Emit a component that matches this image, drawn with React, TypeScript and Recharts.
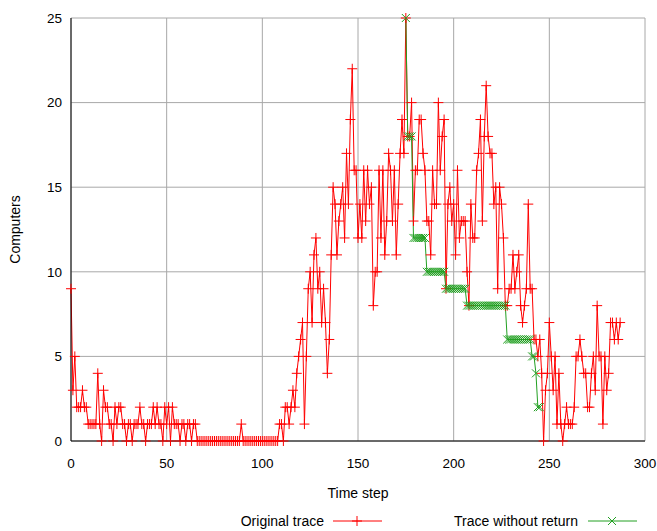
import { CartesianGrid, Legend, Line, LineChart, XAxis, YAxis } from 'recharts'

// time steps run 0..287, one red value per step
const originalTrace = [
  9, 3, 5, 2, 2, 2, 3, 2, 2, 1,
  1, 1, 1, 1, 4, 1, 0, 3, 2, 2,
  1, 1, 0, 2, 1, 2, 2, 1, 1, 0,
  1, 1, 0, 1, 1, 1, 2, 1, 1, 0,
  1, 1, 1, 2, 1, 2, 1, 1, 0, 2,
  1, 2, 0, 2, 1, 1, 1, 0, 1, 1,
  0, 1, 1, 0, 1, 1, 0, 0, 0, 0,
  0, 0, 0, 0, 0, 0, 0, 0, 0, 0,
  0, 0, 0, 0, 0, 0, 0, 0, 0, 1,
  0, 0, 0, 0, 0, 0, 0, 0, 0, 0,
  0, 0, 0, 0, 0, 0, 0, 0, 0, 1,
  1, 0, 2, 2, 1, 2, 3, 2, 4, 5,
  6, 7, 1, 5, 9, 10, 7, 11, 12, 9,
  10, 7, 9, 7, 4, 6, 11, 15, 14, 11,
  13, 14, 15, 12, 17, 14, 19, 22, 16, 16,
  12, 14, 12, 16, 13, 16, 14, 15, 8, 10,
  10, 16, 12, 16, 11, 13, 17, 16, 13, 16,
  11, 14, 17, 19, 17, 25, 18, 18, 20, 13,
  16, 16, 19, 19, 17, 16, 13, 13, 11, 16,
  14, 14, 20, 16, 18, 19, 9, 14, 15, 13,
  14, 11, 16, 12, 13, 13, 13, 10, 8, 14,
  12, 12, 16, 17, 19, 13, 18, 21, 18, 17,
  17, 14, 15, 9, 15, 14, 12, 8, 8, 9,
  9, 11, 9, 10, 11, 8, 7, 8, 9, 14,
  9, 9, 6, 6, 5, 6, 4, 0, 3, 4,
  7, 5, 3, 5, 1, 4, 1, 0, 1, 2,
  1, 1, 1, 2, 5, 5, 6, 5, 4, 4,
  2, 2, 4, 5, 3, 8, 5, 5, 1, 5,
  3, 4, 7, 7, 6, 7, 6, 7,
]

// green trace starts at step 175 and ends at 245
const withoutReturnStart = 175
const withoutReturn = [
  25, 18, 18, 18,
  12, 12, 12, 12, 12, 12, 12,
  10, 10, 10, 10, 10, 10, 10, 10, 10, 10,
  9, 9, 9, 9, 9, 9, 9, 9, 9, 9, 9,
  8, 8, 8, 8, 8, 8, 8, 8, 8, 8, 8, 8, 8, 8, 8, 8, 8, 8, 8, 8, 8,
  6, 6, 6, 6, 6, 6, 6, 6, 6, 6, 6, 6, 6,
  5, 5, 4, 2, 2,
]

const xTicks = [0, 50, 100, 150, 200, 250, 300]
const yTicks = [0, 5, 10, 15, 20, 25]

const data = originalTrace.map((v, t) => {
  const g = t - withoutReturnStart
  return {
    t,
    original: v,
    noReturn: g >= 0 && g < withoutReturn.length ? withoutReturn[g] : null,
  }
})

const RED = '#ff0000'
const GREEN = '#22a022'
const FONT = '"Liberation Sans", Arial, sans-serif'

const plusDot = (p: any) => {
  if (p.cx == null || p.cy == null) return <g key={p.index} />
  return (
    <path
      key={p.index}
      d={`M${p.cx - 5},${p.cy}H${p.cx + 5}M${p.cx},${p.cy - 5}V${p.cy + 5}`}
      stroke={RED}
      strokeWidth={1}
      fill="none"
    />
  )
}

const crossDot = (p: any) => {
  if (p.cx == null || p.cy == null) return <g key={p.index} />
  return (
    <path
      key={p.index}
      d={`M${p.cx - 4},${p.cy - 4}L${p.cx + 4},${p.cy + 4}M${p.cx - 4},${p.cy + 4}L${p.cx + 4},${p.cy - 4}`}
      stroke={GREEN}
      strokeWidth={1}
      fill="none"
    />
  )
}

function LegendBox() {
  return (
    <div style={{ position: 'relative', width: 657, height: 18, fontFamily: FONT, fontSize: 14, color: '#000' }}>
      <span style={{ position: 'absolute', right: 657 - 324, top: 0, lineHeight: '18px', whiteSpace: 'nowrap' }}>
        Original trace
      </span>
      <svg style={{ position: 'absolute', left: 333, top: 0 }} width={50} height={18}>
        <line x1={0} y1={9} x2={49} y2={9} stroke={RED} strokeWidth={1} />
        <path d="M19,9H29M24,4V14" stroke={RED} strokeWidth={1} />
      </svg>
      <span style={{ position: 'absolute', right: 657 - 578, top: 0, lineHeight: '18px', whiteSpace: 'nowrap' }}>
        Trace without return
      </span>
      <svg style={{ position: 'absolute', left: 588, top: 0 }} width={50} height={18}>
        <line x1={0} y1={9} x2={49} y2={9} stroke={GREEN} strokeWidth={1} />
        <path d="M20,5L28,13M20,13L28,5" stroke={GREEN} strokeWidth={1} />
      </svg>
    </div>
  )
}

export default function App() {
  return (
    <div style={{ position: 'absolute', left: 0, top: 0, width: 657, height: 531, background: '#fff' }}>
      <LineChart width={657} height={531} data={data} margin={{ top: 18, right: 12, left: 0, bottom: 30 }}>
        <CartesianGrid stroke="#a8a8a8" strokeWidth={1} />
        <XAxis
          dataKey="t"
          type="number"
          domain={[0, 300]}
          ticks={xTicks}
          height={60}
          tickLine={false}
          tickSize={6}
          tickMargin={11}
          axisLine={{ stroke: '#000' }}
          tick={{ fill: '#000', fontSize: 13.5, fontFamily: FONT }}
          label={{
            content: ({ viewBox }: any) => (
              <text
                x={viewBox.x + viewBox.width / 2}
                y={493}
                textAnchor="middle"
                dominantBaseline="central"
                fontFamily={FONT}
                fontSize={14}
                fill="#000"
              >
                Time step
              </text>
            ),
          }}
        />
        <XAxis xAxisId="top" orientation="top" type="number" domain={[0, 300]} ticks={xTicks} height={0} tick={false} tickLine={false} axisLine={{ stroke: '#000' }} />
        <YAxis
          type="number"
          domain={[0, 25]}
          ticks={yTicks}
          width={71}
          tickLine={false}
          tickSize={6}
          tickMargin={3}
          axisLine={{ stroke: '#000' }}
          tick={{ fill: '#000', fontSize: 13.5, fontFamily: FONT }}
          label={{
            content: ({ viewBox }: any) => (
              <text
                x={15}
                y={viewBox.y + viewBox.height / 2}
                transform={`rotate(-90 15 ${viewBox.y + viewBox.height / 2})`}
                textAnchor="middle"
                dominantBaseline="central"
                fontFamily={FONT}
                fontSize={14}
                fill="#000"
              >
                Computers
              </text>
            ),
          }}
        />
        <YAxis yAxisId="right" orientation="right" type="number" domain={[0, 25]} ticks={yTicks} width={0} tick={false} tickLine={false} axisLine={{ stroke: '#000' }} />
        <Line
          dataKey="original"
          name="Original trace"
          stroke={RED}
          strokeWidth={1}
          dot={plusDot}
          activeDot={false}
          isAnimationActive={false}
        />
        <Line
          dataKey="noReturn"
          name="Trace without return"
          stroke={GREEN}
          strokeWidth={1}
          dot={crossDot}
          activeDot={false}
          connectNulls={false}
          isAnimationActive={false}
        />
        <Legend
          layout="horizontal"
          verticalAlign="middle"
          align="center"
          wrapperStyle={{ left: 0, top: 512, width: 657, height: 18 }}
          content={() => <LegendBox />}
        />
      </LineChart>
    </div>
  )
}
